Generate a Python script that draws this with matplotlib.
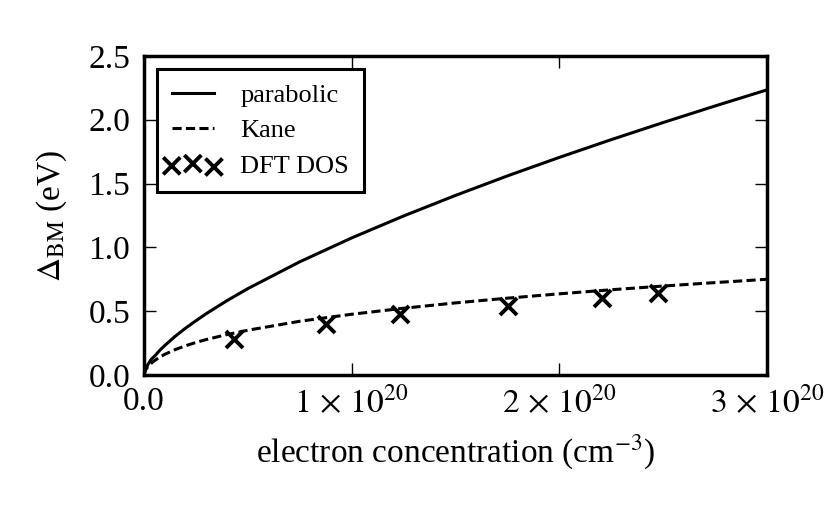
import numpy as np
import matplotlib
matplotlib.use("Agg")
import matplotlib.pyplot as plt
from matplotlib.legend_handler import HandlerPathCollection

plt.rcParams['font.family'] = ['Liberation Serif', 'DejaVu Serif']
plt.rcParams['mathtext.fontset'] = 'stix'

# electron concentration in units of 1e20 cm^-3
n_curve = [0.0, 0.005, 0.01, 0.02, 0.035, 0.05, 0.075, 0.1, 0.15, 0.2, 0.25, 0.3,
           0.4, 0.5, 0.75, 1.0, 1.25, 1.5, 1.75, 2.0, 2.25, 2.5, 2.75, 3.0]
parabolic = [0.0, 0.034, 0.054, 0.085, 0.124, 0.146, 0.192, 0.231, 0.303, 0.367,
             0.425, 0.481, 0.583, 0.677, 0.887, 1.074, 1.246, 1.407, 1.560, 1.705,
             1.844, 1.978, 2.108, 2.234]
kane = [0.0, 0.031, 0.046, 0.067, 0.092, 0.112, 0.139, 0.162, 0.199, 0.229,
        0.255, 0.278, 0.317, 0.351, 0.421, 0.476, 0.523, 0.565, 0.602, 0.636,
        0.668, 0.697, 0.724, 0.750]

n_dft = [0.433, 0.875, 1.233, 1.751, 2.207, 2.476]
dft = [0.282, 0.397, 0.476, 0.543, 0.601, 0.640]

xticks = [0, 1e20, 2e20, 3e20]
xticklabels = ['0.0', r'$1\,\times\,10^{20}$', r'$2\,\times\,10^{20}$', r'$3\,\times\,10^{20}$']
yticks = [0, 0.5, 1.0, 1.5, 2.0, 2.5]
yticklabels = ['0.0', '0.5', '1.0', '1.5', '2.0', '2.5']

fig = plt.figure(figsize=(8.31, 5.13), dpi=100)
ax = fig.add_axes([0.1733, 0.269, 0.7497, 0.622])

ax.plot(np.array(n_curve) * 1e20, parabolic, 'k-', lw=2.2, label='parabolic')
ax.plot(np.array(n_curve) * 1e20, kane, 'k--', lw=2.2, dashes=(3, 1.4), label='Kane')
sc = ax.scatter(np.array(n_dft) * 1e20, dft, marker='x', s=150, c='k', linewidths=2.8,
                label='DFT DOS')

ax.set_xlim(0, 3e20)
ax.set_ylim(0, 2.5)
ax.set_xticks(xticks)
ax.set_xticklabels(xticklabels)
ax.set_yticks(yticks)
ax.set_yticklabels(yticklabels)
ax.tick_params(direction='in', length=8.5, width=1, labelsize=24,
               top=True, right=True)
ax.tick_params(axis='x', pad=8)
ax.tick_params(axis='y', pad=10)
for s in ax.spines.values():
    s.set_linewidth(2.5)

ax.set_xlabel(r'electron concentration (cm$^{-3}$)', fontsize=24, labelpad=10)
ax.set_ylabel(r'$\Delta_{\rm BM}$ (eV)', fontsize=24, labelpad=14)

leg = ax.legend(loc='upper left', fontsize=19, scatterpoints=3, fancybox=False,
                frameon=True, borderaxespad=0.5, borderpad=0.55, labelspacing=0.45,
                handlelength=1.6, handletextpad=1.0,
                handler_map={sc: HandlerPathCollection(marker_pad=0)})
leg.get_frame().set_edgecolor('k')
leg.get_frame().set_linewidth(2.2)
leg.get_frame().set_alpha(1)

fig.savefig('out.png', dpi=100)
